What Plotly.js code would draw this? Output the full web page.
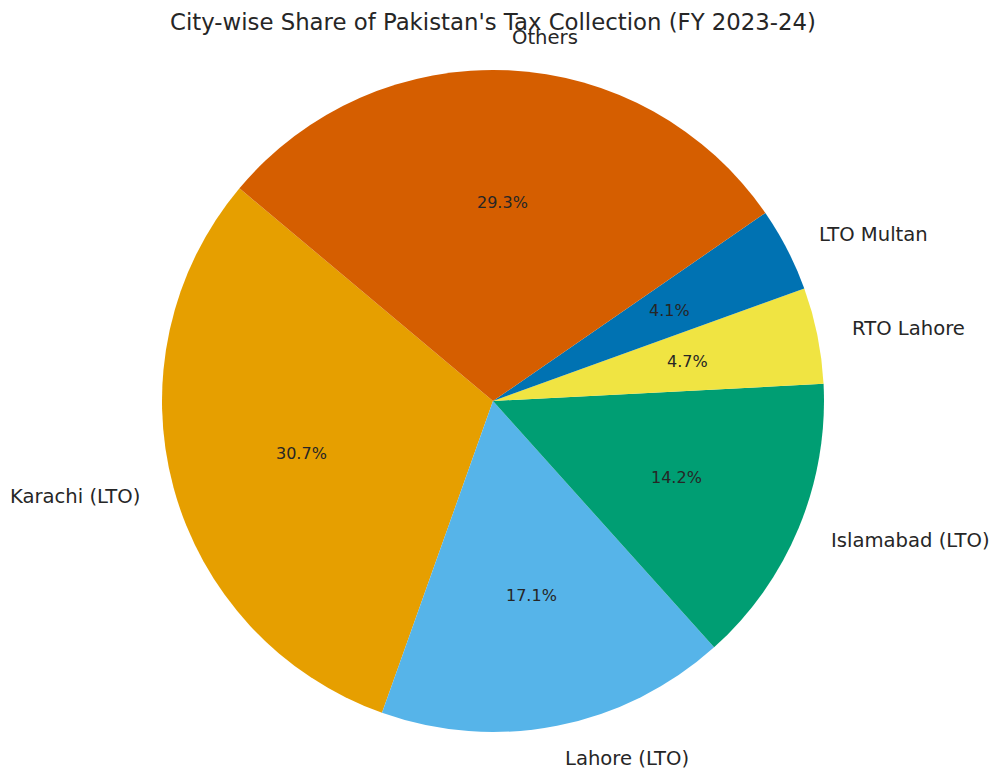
<!DOCTYPE html>
<html>
<head>
<meta charset="utf-8">
<script src="https://cdn.plot.ly/plotly-3.0.1.min.js"></script>
<style>html,body{margin:0;padding:0;background:#fff;} #chart{width:1000px;height:780px;}</style>
</head>
<body>
<div id="chart"></div>
<script>
const categories = ["Karachi (LTO)", "Lahore (LTO)", "Islamabad (LTO)", "RTO Lahore", "LTO Multan", "Others"];
const shares = [30.7, 17.1, 14.2, 4.7, 4.1, 29.3];
const colors = ["#E69F00", "#56B4E9", "#009E73", "#F0E442", "#0072B2", "#D55E00"];
const titleText = "City-wise Share of Pakistan's Tax Collection (FY 2023-24)";

const startAngle = 140; // degrees, counterclockwise from 3 o'clock
const labelDistance = 1.1;
const pctDistance = 0.6;
const FONT = "DejaVu Sans, sans-serif";
const TEXT = "#262626";

const total = shares.reduce((a, b) => a + b, 0);
const annotations = [];
let cum = startAngle;
shares.forEach((v, i) => {
  const span = v / total * 360;
  const mid = (cum + span / 2) * Math.PI / 180;
  cum += span;
  const cx = Math.cos(mid), cy = Math.sin(mid);
  annotations.push({
    xref: "paper", yref: "paper",
    x: 0.5 + 0.5 * labelDistance * cx,
    y: 0.5 + 0.5 * labelDistance * cy,
    text: categories[i], showarrow: false,
    xanchor: cx > 0 ? "left" : "right", yanchor: "middle",
    font: {family: FONT, size: 19.6, color: TEXT}
  });
  annotations.push({
    xref: "paper", yref: "paper",
    x: 0.5 + 0.5 * pctDistance * cx,
    y: 0.5 + 0.5 * pctDistance * cy,
    text: v.toFixed(1) + "%", showarrow: false,
    xanchor: "center", yanchor: "middle",
    font: {family: FONT, size: 16, color: TEXT}
  });
});

// In Plotly's counterclockwise mode the first slice ends at the rotation angle
const firstEnd = startAngle + shares[0] / total * 360;

const trace = {
  type: "pie",
  labels: categories,
  values: shares,
  sort: false,
  direction: "counterclockwise",
  rotation: -(firstEnd - 90),
  marker: {colors: colors, line: {width: 0}},
  textinfo: "none",
  hoverinfo: "label+percent",
  showlegend: false,
  domain: {x: [0, 1], y: [0, 1]}
};

const layout = {
  width: 1000, height: 780,
  margin: {l: 162, r: 176, t: 70, b: 48, pad: 0},
  paper_bgcolor: "#ffffff",
  showlegend: false,
  title: {
    text: titleText,
    font: {family: FONT, size: 22.8, color: TEXT},
    xref: "paper", x: 0.5, xanchor: "center",
    yref: "container", y: 1 - 22 / 780, yanchor: "middle"
  },
  annotations: annotations
};

Plotly.newPlot("chart", [trace], layout, {displayModeBar: false, staticPlot: true});
</script>
</body>
</html>
